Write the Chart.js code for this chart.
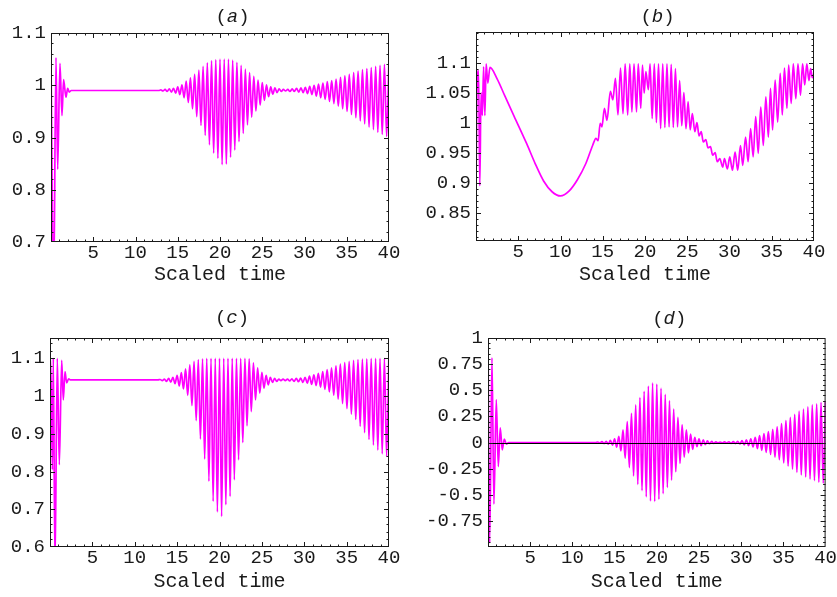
<!DOCTYPE html>
<html>
<head>
<meta charset="utf-8">
<script src="https://cdn.jsdelivr.net/npm/chart.js@4.4.1/dist/chart.umd.min.js"></script>
<style>
  html, body { margin: 0; padding: 0; background: #fff; }
  #page { position: relative; width: 837px; height: 597px; overflow: hidden; background: #fff; }
  .panel { position: absolute; }
  canvas { display: block; }
</style>
</head>
<body>
<div id="page">
  <div class="panel" style="left:0;top:0"><canvas id="chartA" width="420" height="298"></canvas></div>
  <div class="panel" style="left:420px;top:0"><canvas id="chartB" width="417" height="298"></canvas></div>
  <div class="panel" style="left:0;top:298px"><canvas id="chartC" width="420" height="299"></canvas></div>
  <div class="panel" style="left:420px;top:298px"><canvas id="chartD" width="417" height="299"></canvas></div>
</div>
<script>
// ---- tick labels ----
const xTicks = [5, 10, 15, 20, 25, 30, 35, 40];
const yTicksA = [0.7, 0.8, 0.9, 1, 1.1];
const yTicksB = [0.85, 0.9, 0.95, 1, 1.05, 1.1];
const yTicksC = [0.6, 0.7, 0.8, 0.9, 1, 1.1];
const yTicksD = [-0.75, -0.5, -0.25, 0, 0.25, 0.5, 0.75, 1];

// ---- start-up transient, [time, value] at each turning point ----
const aStart = [[0, 1.05], [0.31, 0.6], [0.59, 1.053], [0.79, 0.839], [1.06, 1.042], [1.3, 0.942],
  [1.49, 1.011], [1.77, 0.977], [1.97, 0.994], [2.16, 0.987], [2.4, 0.99], [12.75, 0.99]];
const cStart = [[0, 1.1], [0.08, 1.1], [0.28, 0.805], [0.39, 1.1], [0.59, 0.55], [0.86, 1.1], [1.1, 0.818],
  [1.38, 1.095], [1.57, 0.99], [1.77, 1.065], [1.97, 1.035], [2.2, 1.046], [2.4, 1.043], [12.75, 1.043]];
const dStart = [[0, 1.0], [0.2, -0.96], [0.47, 0.81], [0.7, -0.59], [0.98, 0.41], [1.22, -0.23],
  [1.45, 0.14], [1.69, -0.07], [1.93, 0.033], [2.17, -0.015], [2.45, 0], [12.75, 0]];

// ---- turning points of the later oscillations, shared by (a), (c), (d) ----
const waveTime = [
  13, 13.25, 13.5, 13.75, 14, 14.25, 14.5, 14.75,
  15, 15.25, 15.5, 15.75, 16, 16.25, 16.5, 16.75,
  17, 17.25, 17.5, 17.75, 18, 18.25, 18.5, 18.75,
  19, 19.25, 19.5, 19.75, 20, 20.25, 20.5, 20.75,
  21, 21.25, 21.5, 21.75, 22, 22.25, 22.5, 22.75,
  23, 23.25, 23.5, 23.75, 24, 24.25, 24.5, 24.75,
  25, 25.25, 25.5, 25.75, 26, 26.25, 26.5, 26.75,
  27, 27.25, 27.5,
  27.76, 28.02, 28.28, 28.54, 28.80, 29.06, 29.32, 29.58,
  29.84, 30.10, 30.36, 30.62, 30.88, 31.14, 31.40, 31.66,
  31.92, 32.18, 32.44, 32.70, 32.96, 33.22, 33.48, 33.74,
  34.00, 34.26, 34.52, 34.78, 35.04, 35.30, 35.56, 35.82,
  36.08, 36.34, 36.60, 36.86, 37.12, 37.38, 37.64, 37.90,
  38.16, 38.42, 38.68, 38.94, 39.20, 39.46, 39.72, 39.98
];
const aWave = [
  0.991, 0.989, 0.992, 0.988, 0.993, 0.987, 0.994, 0.985,
  0.997, 0.982, 1.001, 0.976, 1.008, 0.967, 1.014, 0.955,
  1.021, 0.940, 1.029, 0.923, 1.036, 0.904, 1.043, 0.886,
  1.047, 0.870, 1.049, 0.860, 1.050, 0.848, 1.050, 0.849,
  1.050, 0.862, 1.048, 0.876, 1.044, 0.892, 1.038, 0.908,
  1.031, 0.924, 1.024, 0.939, 1.017, 0.951, 1.010, 0.962,
  1.005, 0.971, 1.001, 0.978, 0.997, 0.983, 0.995, 0.986,
  0.993, 0.988, 0.992,
  0.989, 0.992, 0.988, 0.993, 0.988, 0.994, 0.987, 0.995,
  0.986, 0.996, 0.984, 0.998, 0.982, 1.000, 0.979, 1.002,
  0.976, 1.004, 0.973, 1.007, 0.969, 1.009, 0.965, 1.012,
  0.960, 1.015, 0.955, 1.018, 0.950, 1.021, 0.944, 1.024,
  0.938, 1.027, 0.932, 1.030, 0.926, 1.032, 0.920, 1.034,
  0.915, 1.036, 0.910, 1.038, 0.906, 1.040, 0.902, 1.041
];
const cWave = [
  1.044, 1.041, 1.045, 1.039, 1.047, 1.037, 1.050, 1.033,
  1.055, 1.027, 1.062, 1.019, 1.072, 1.002, 1.083, 0.975,
  1.092, 0.935, 1.097, 0.886, 1.099, 0.833, 1.100, 0.774,
  1.100, 0.721, 1.100, 0.693, 1.100, 0.681, 1.100, 0.712,
  1.100, 0.734, 1.100, 0.778, 1.100, 0.831, 1.100, 0.877,
  1.100, 0.921, 1.099, 0.959, 1.088, 0.990, 1.075, 1.008,
  1.063, 1.021, 1.055, 1.030, 1.050, 1.036, 1.047, 1.039,
  1.045, 1.041, 1.045,
  1.041, 1.045, 1.040, 1.046, 1.039, 1.047, 1.038, 1.048,
  1.036, 1.050, 1.034, 1.053, 1.031, 1.056, 1.028, 1.060,
  1.024, 1.065, 1.018, 1.070, 1.011, 1.075, 1.002, 1.080,
  0.992, 1.085, 0.980, 1.089, 0.967, 1.092, 0.952, 1.095,
  0.938, 1.097, 0.920, 1.098, 0.903, 1.099, 0.885, 1.100,
  0.870, 1.100, 0.857, 1.100, 0.847, 1.100, 0.840, 1.100
];
const dWave = [
  0.005, -0.005, 0.008, -0.010, 0.012, -0.015, 0.020, -0.025,
  0.035, -0.045, 0.060, -0.080, 0.120, -0.150, 0.200, -0.240,
  0.280, -0.320, 0.360, -0.400, 0.430, -0.460, 0.490, -0.520,
  0.540, -0.560, 0.570, -0.565, 0.560, -0.545, 0.520, -0.490,
  0.460, -0.430, 0.400, -0.360, 0.320, -0.280, 0.240, -0.200,
  0.170, -0.140, 0.120, -0.100, 0.080, -0.065, 0.050, -0.040,
  0.035, -0.030, 0.025, -0.020, 0.015, -0.012, 0.010, -0.008,
  0.006, -0.005, 0.005,
  -0.005, 0.006, -0.006, 0.007, -0.008, 0.009, -0.010, 0.012,
  -0.014, 0.018, -0.022, 0.026, -0.030, 0.036, -0.042, 0.050,
  -0.058, 0.066, -0.075, 0.085, -0.095, 0.105, -0.115, 0.125,
  -0.140, 0.150, -0.165, 0.180, -0.195, 0.210, -0.225, 0.240,
  -0.255, 0.270, -0.285, 0.300, -0.310, 0.320, -0.330, 0.340,
  -0.350, 0.360, -0.365, 0.370, -0.380, 0.385, -0.390, 0.395
];

// ---- panel (b), whole curve as [time, value] turning points ----
const bCurve = [
  [0, 0.882], [0.1, 1.04], [0.3, 1.087], [0.45, 0.895], [0.6, 1.05], [0.75, 1.012], [0.9, 1.093],
  [1.05, 1.012], [1.2, 1.098], [1.4, 1.066], [1.65, 1.092],
  [2.5, 1.073], [3.4, 1.045], [4.5, 1.011], [6, 0.965], [7, 0.932], [8, 0.903], [9, 0.885],
  [10, 0.878], [11, 0.886], [12, 0.905], [13, 0.932], [13.8, 0.962],
  [14.2, 0.974], [14.45, 0.97], [14.7, 0.999], [14.9, 0.993], [15.2, 1.024], [15.5, 1.004],
  [15.9, 1.052], [16.2, 1.038], [16.5, 1.074], [16.8, 1.013], [17.1, 1.091], [17.4, 1.015],
  [17.65, 1.098], [17.95, 1.013], [18.2, 1.098], [18.45, 1.018], [18.7, 1.098], [19, 1.018],
  [19.2, 1.098], [19.5, 1.024], [19.7, 1.096], [19.9, 1.049], [20.1, 1.085], [20.4, 1.055],
  [20.6, 1.098], [20.85, 1.007], [21.1, 1.098], [21.35, 1.0], [21.6, 1.098], [21.85, 0.99],
  [22.1, 1.098], [22.35, 0.992], [22.6, 1.098], [22.85, 0.993], [23.1, 1.097], [23.35, 0.992],
  [23.6, 1.09], [23.85, 0.993], [24.1, 1.07], [24.35, 0.995], [24.6, 1.05], [24.85, 0.99],
  [25.1, 1.035], [25.35, 0.988], [25.6, 1.015], [25.9, 0.985], [26.15, 1.0], [26.4, 0.978],
  [26.65, 0.985], [26.9, 0.968], [27.2, 0.972], [27.45, 0.958], [27.75, 0.96], [28, 0.946],
  [28.3, 0.95], [28.55, 0.935], [28.85, 0.94], [29.2, 0.926], [29.4, 0.94], [29.75, 0.923],
  [30.03, 0.943], [30.35, 0.921], [30.66, 0.951], [30.97, 0.921], [31.3, 0.962], [31.57, 0.929],
  [31.9, 0.976], [32.2, 0.935], [32.5, 0.99], [32.8, 0.943], [33.1, 1.01], [33.4, 0.949],
  [33.7, 1.026], [34, 0.962], [34.3, 1.043], [34.6, 0.976], [34.85, 1.057], [35.1, 0.988],
  [35.4, 1.071], [35.7, 1.001], [36, 1.082], [36.25, 1.013], [36.5, 1.091], [36.8, 1.024],
  [37, 1.096], [37.3, 1.032], [37.55, 1.098], [37.85, 1.04], [38.1, 1.098], [38.4, 1.046],
  [38.65, 1.098], [38.9, 1.063], [39.15, 1.098], [39.4, 1.07], [39.6, 1.09], [39.8, 1.075], [40, 1.082]
];

const MAGENTA = '#ff00ff';
const INK = '#1a1a1a';
const FONT = '"Liberation Mono", "Courier New", monospace';

function pairsToPoints(pairs) {
  return pairs.map(([x, y]) => ({ x, y }));
}
function wavePoints(values) {
  return waveTime.map((t, i) => ({ x: t, y: values[i] }));
}

// Mathematica-style frame: box all round, ticks pointing inward on every side.
const framePlugin = {
  id: 'mmaFrame',
  afterDatasetsDraw(chart, args, opts) {
    const { ctx, chartArea: a, scales: { x, y } } = chart;
    ctx.save();
    if (opts.zeroLine) {
      const py = Math.round(y.getPixelForValue(0)) + 0.5;
      ctx.strokeStyle = '#000';
      ctx.lineWidth = 1;
      ctx.beginPath();
      ctx.moveTo(a.left, py);
      ctx.lineTo(a.right, py);
      ctx.stroke();
    }
    ctx.strokeStyle = INK;
    ctx.lineWidth = 1;
    ctx.strokeRect(a.left + 0.5, a.top + 0.5, a.right - a.left - 1, a.bottom - a.top - 1);

    const ticks = [];
    for (let v = 1; v < 40; v++) ticks.push({ axis: 'x', v, len: v % 5 === 0 ? 5 : 2.5 });
    const kMin = Math.ceil(y.min / opts.yMinor - 1e-6);
    const kMax = Math.floor(y.max / opts.yMinor + 1e-6);
    for (let k = kMin; k <= kMax; k++) {
      const v = k * opts.yMinor;
      const major = opts.yMajor.some(m => Math.abs(m - v) < 1e-6);
      ticks.push({ axis: 'y', v, len: major ? 5 : 2.5 });
    }
    ctx.beginPath();
    ticks.forEach(t => {
      if (t.axis === 'x') {
        const px = Math.round(x.getPixelForValue(t.v)) + 0.5;
        ctx.moveTo(px, a.bottom); ctx.lineTo(px, a.bottom - t.len);
        ctx.moveTo(px, a.top); ctx.lineTo(px, a.top + t.len);
      } else {
        const py = Math.round(y.getPixelForValue(t.v)) + 0.5;
        if (py < a.top + 1 || py > a.bottom - 1) return;
        ctx.moveTo(a.left, py); ctx.lineTo(a.left + t.len, py);
        ctx.moveTo(a.right, py); ctx.lineTo(a.right - t.len, py);
      }
    });
    ctx.stroke();
    ctx.restore();
  },
  afterDraw(chart, args, opts) {
    const { ctx, chartArea: a } = chart;
    const parts = [['(', false], [opts.letter, true], [')', false]];
    const fontFor = it => `${it ? 'italic ' : ''}19px ${FONT}`;
    ctx.save();
    ctx.fillStyle = INK;
    ctx.textBaseline = 'middle';
    ctx.textAlign = 'left';
    let total = 0;
    parts.forEach(([s, it]) => { ctx.font = fontFor(it); total += ctx.measureText(s).width; });
    let cx = (a.left + a.right) / 2 + 12.5 - total / 2;
    parts.forEach(([s, it]) => {
      ctx.font = fontFor(it);
      ctx.fillText(s, cx, opts.titleY);
      cx += ctx.measureText(s).width;
    });
    ctx.restore();
  }
};

function makePanel(canvasId, points, p) {
  const canvas = document.getElementById(canvasId);
  return new Chart(canvas, {
    type: 'line',
    data: {
      datasets: [{
        data: points,
        borderColor: MAGENTA,
        borderWidth: 1.7,
        pointRadius: 0,
        fill: false,
        cubicInterpolationMode: 'monotone'
      }]
    },
    options: {
      responsive: false,
      animation: false,
      devicePixelRatio: 1,
      parsing: false,
      layout: { padding: { left: 0, top: p.top, right: p.right, bottom: 0 } },
      plugins: {
        legend: { display: false },
        tooltip: { enabled: false },
        mmaFrame: { letter: p.letter, titleY: p.titleY, yMajor: p.yTicks, yMinor: p.yMinor, zeroLine: !!p.zeroLine }
      },
      scales: {
        x: {
          type: 'linear', min: 0, max: 40,
          afterBuildTicks: s => { s.ticks = xTicks.map(v => ({ value: v })); },
          afterFit: s => { s.height = p.xHeight; },
          grid: { display: false, drawTicks: false },
          border: { display: false },
          ticks: { autoSkip: false, maxRotation: 0, padding: 0, color: INK, font: { family: FONT, size: 19 }, callback: v => String(v) },
          title: { display: true, text: 'Scaled time', color: INK, font: { family: FONT, size: 20 }, padding: { top: 0, bottom: p.titlePad } }
        },
        y: {
          type: 'linear', min: p.yMin, max: p.yMax,
          afterBuildTicks: s => { s.ticks = p.yTicks.map(v => ({ value: v })); },
          afterFit: s => { s.width = p.left; },
          grid: { display: false, drawTicks: false },
          border: { display: false },
          ticks: { autoSkip: false, padding: 5, color: INK, font: { family: FONT, size: 19 }, callback: v => String(v) }
        }
      }
    },
    plugins: [framePlugin]
  });
}

makePanel('chartA', pairsToPoints(aStart).concat(wavePoints(aWave)), {
  letter: 'a', yMin: 0.7, yMax: 1.1, yTicks: yTicksA, yMinor: 0.02,
  left: 51, top: 33, right: 31, xHeight: 56, titlePad: 11, titleY: 17
});
makePanel('chartB', pairsToPoints(bCurve), {
  letter: 'b', yMin: 0.803, yMax: 1.151, yTicks: yTicksB, yMinor: 0.01,
  left: 56, top: 32, right: 23, xHeight: 57, titlePad: 11, titleY: 17
});
makePanel('chartC', pairsToPoints(cStart).concat(wavePoints(cWave)), {
  letter: 'c', yMin: 0.6, yMax: 1.154, yTicks: yTicksC, yMinor: 0.02,
  left: 50, top: 40, right: 31, xHeight: 50, titlePad: 3.3, titleY: 20
});
makePanel('chartD', pairsToPoints(dStart).concat(wavePoints(dWave)), {
  letter: 'd', yMin: -1, yMax: 1, yTicks: yTicksD, yMinor: 0.05,
  left: 68, top: 40, right: 11, xHeight: 50, titlePad: 3.3, titleY: 21, zeroLine: true
});
</script>
</body>
</html>
